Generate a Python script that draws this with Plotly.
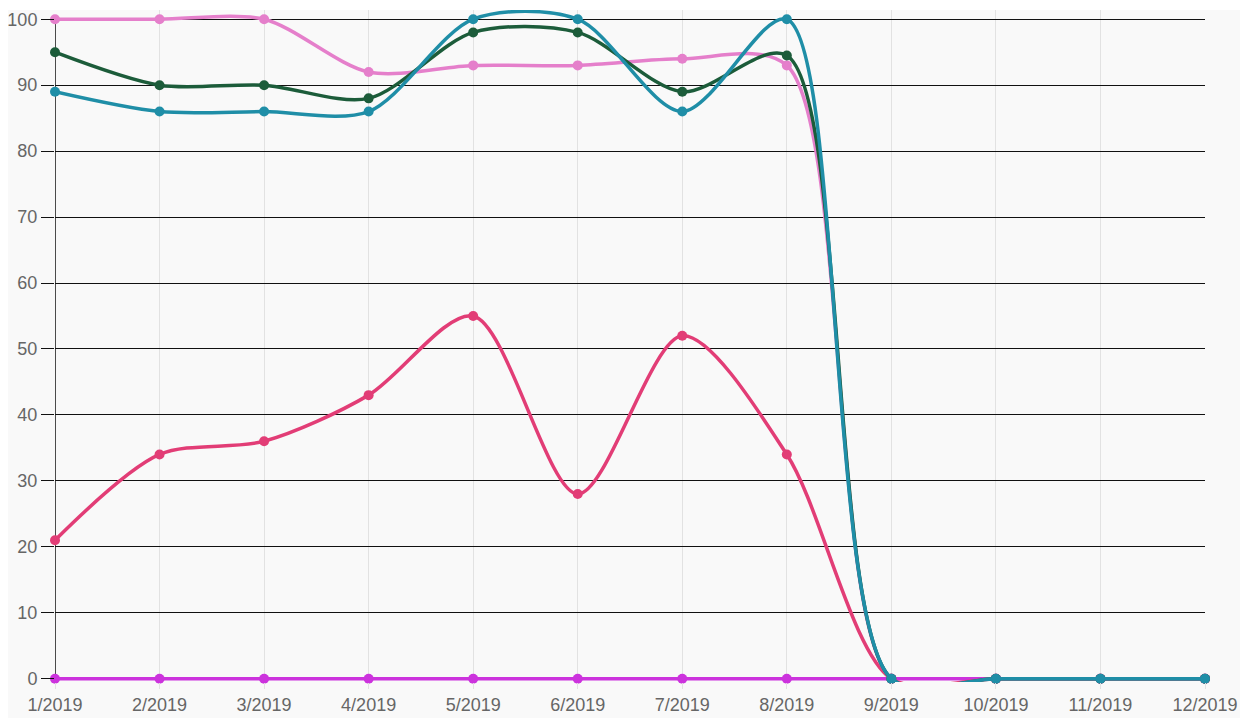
import plotly.graph_objects as go

months = ["1/2019", "2/2019", "3/2019", "4/2019", "5/2019", "6/2019",
          "7/2019", "8/2019", "9/2019", "10/2019", "11/2019", "12/2019"]
series_purple = [0, 0, 0, 0, 0, 0, 0, 0, 0, 0, 0, 0]
series_crimson = [21, 34, 36, 43, 55, 28, 52, 34, 0, 0, 0, 0]
series_pink = [100, 100, 100, 92, 93, 93, 94, 93, 0, 0, 0, 0]
series_green = [95, 90, 90, 88, 98, 98, 89, 94.5, 0, 0, 0, 0]
series_teal = [89, 86, 86, 86, 100, 100, 86, 100, 0, 0, 0, 0]
y_ticks = list(range(0, 101, 10))

x = list(range(len(months)))
series = [
    (series_purple, "#cc33dd"),
    (series_crimson, "#e23d76"),
    (series_pink, "#e57fcb"),
    (series_green, "#1c5c3a"),
    (series_teal, "#1f8ea7"),
]

fig = go.Figure()
for vals, col in series:
    fig.add_trace(go.Scatter(
        x=x, y=vals, mode="lines+markers",
        line=dict(color=col, width=3.5, shape="spline", smoothing=0.85),
        marker=dict(color=col, size=10),
        cliponaxis=False, showlegend=False,
    ))

fig.update_layout(
    width=1248, height=718,
    margin=dict(l=47, r=51, t=2, b=44),
    paper_bgcolor="#f9f9f9", plot_bgcolor="#f9f9f9",
    font=dict(family="Liberation Sans, Arial, sans-serif", size=18, color="#666666"),
    shapes=[
        dict(type="rect", xref="paper", yref="paper", x0=-0.1, x1=1.1,
             y0=1.0, y1=1.1, fillcolor="white", line_width=0, layer="below"),
        dict(type="line", xref="x", yref="y", x0=0, x1=0, y0=0, y1=100,
             line=dict(color="#111111", width=1.5), layer="below"),
    ],
)
fig.update_xaxes(
    range=[0, 11], tickvals=x, ticktext=months, automargin=False,
    showgrid=True, gridcolor="#e2e2e2", gridwidth=1,
    ticks="outside", ticklen=6, tickcolor="#e2e2e2",
    zeroline=False, showline=False,
)
fig.update_yaxes(
    range=[-0.5, 101.4], tickvals=y_ticks, automargin=False,
    showgrid=True, gridcolor="#111111", gridwidth=1,
    ticks="outside", ticklen=13, tickcolor="#111111",
    zeroline=False, showline=False,
)

fig.write_html("out.html")
